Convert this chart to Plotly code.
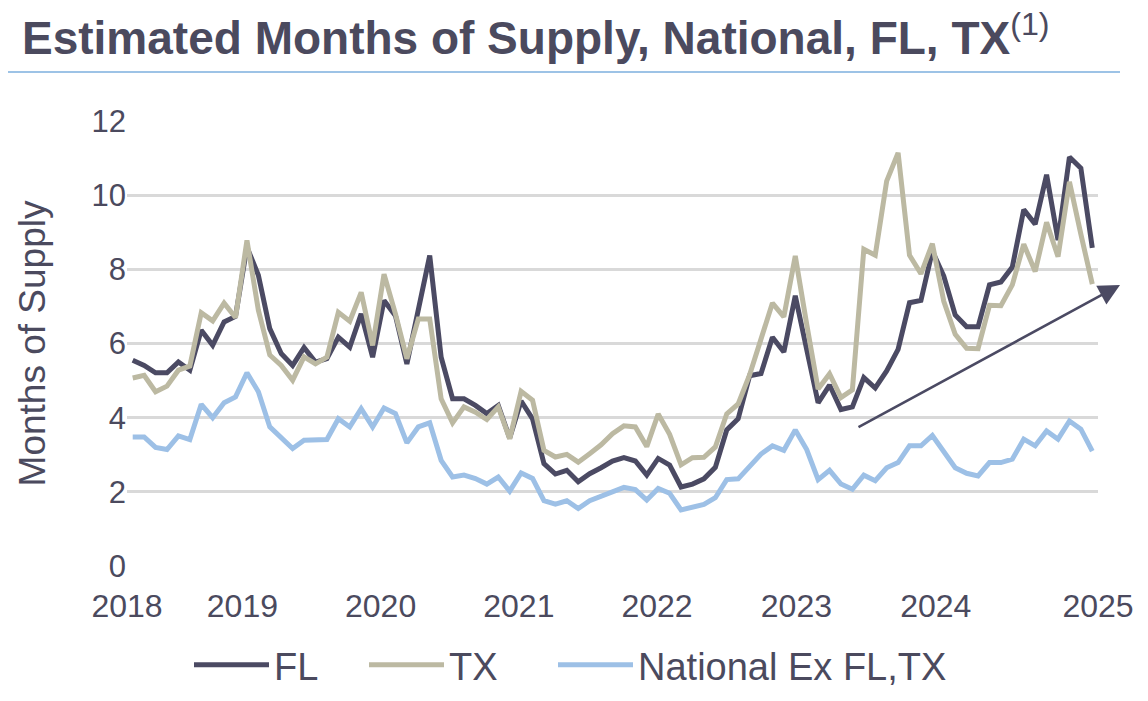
import plotly.graph_objects as go

# Monthly months-of-supply readings, Jan 2018 .. Jan 2025 (85 months)
fl = [
    5.55, 5.41, 5.21, 5.21, 5.50, 5.28, 6.36, 5.95, 6.58, 6.73, 8.60, 7.84,
    6.40, 5.73, 5.41, 5.89, 5.50, 5.59, 6.17, 5.90, 6.80, 5.63, 7.16, 6.75,
    5.45, 6.89, 8.37, 5.63, 4.51, 4.51, 4.33, 4.11, 4.33, 3.45, 4.45, 3.97,
    2.76, 2.48, 2.58, 2.27, 2.49, 2.65, 2.83, 2.92, 2.83, 2.45, 2.90, 2.72,
    2.13, 2.21, 2.35, 2.66, 3.67, 3.97, 5.13, 5.19, 6.17, 5.77, 7.29, 5.84,
    4.40, 4.88, 4.22, 4.29, 5.08, 4.80, 5.26, 5.84, 7.10, 7.16, 8.49, 7.82,
    6.77, 6.45, 6.45, 7.58, 7.66, 8.06, 9.61, 9.22, 10.55, 8.79, 11.03, 10.73,
    8.58,
]
tx = [
    5.07, 5.14, 4.70, 4.85, 5.28, 5.39, 6.83, 6.61, 7.09, 6.70, 8.78, 6.90,
    5.69, 5.41, 5.01, 5.64, 5.45, 5.63, 6.84, 6.60, 7.38, 5.95, 7.87, 6.80,
    5.59, 6.66, 6.66, 4.51, 3.86, 4.29, 4.15, 3.95, 4.29, 3.43, 4.71, 4.47,
    3.12, 2.94, 3.01, 2.80, 3.03, 3.27, 3.57, 3.78, 3.75, 3.22, 4.10, 3.55,
    2.73, 2.92, 2.93, 3.21, 4.10, 4.37, 5.15, 6.14, 7.09, 6.72, 8.36, 6.52,
    4.77, 5.18, 4.54, 4.75, 8.54, 8.38, 10.38, 11.14, 8.38, 7.88, 8.69, 7.14,
    6.25, 5.87, 5.86, 7.03, 7.02, 7.58, 8.68, 7.94, 9.27, 8.34, 10.36, 8.95,
    7.60,
]
national = [
    3.48, 3.48, 3.20, 3.14, 3.51, 3.41, 4.36, 4.00, 4.40, 4.56, 5.21, 4.70,
    3.75, 3.48, 3.17, 3.39, 3.39, 3.41, 3.97, 3.75, 4.24, 3.75, 4.26, 4.11,
    3.32, 3.75, 3.86, 2.85, 2.40, 2.45, 2.36, 2.21, 2.40, 2.02, 2.51, 2.36,
    1.76, 1.67, 1.76, 1.55, 1.76, 1.88, 2.03, 2.12, 2.06, 1.78, 2.09, 1.96,
    1.51, 1.59, 1.66, 1.84, 2.33, 2.35, 2.69, 3.02, 3.24, 3.12, 3.67, 3.14,
    2.33, 2.58, 2.21, 2.07, 2.45, 2.30, 2.65, 2.79, 3.24, 3.24, 3.52, 3.06,
    2.65, 2.50, 2.43, 2.79, 2.79, 2.88, 3.42, 3.24, 3.64, 3.42, 3.91, 3.69,
    3.10,
]
months = list(range(len(fl)))

year_labels = ["2018", "2019", "2020", "2021", "2022", "2023", "2024", "2025"]
series_names = ["FL", "TX", "National Ex FL,TX"]

DARK = "#4b4a63"
TAN = "#bcb9a2"
BLUE = "#9dc0e6"
TEXT = "#4b4a5e"
FONT = "Liberation Sans"

# the page body adds an 8px margin, so layout is worked out in page pixels
# and shifted back by that amount
PAD = 8
W, H = 1148 - PAD, 701 - PAD
L, R, T, B = 127 - PAD, 1098 - PAD, 121 - PAD, 566 - PAD


def px_x(x):
    # page pixel -> paper x
    return (x - PAD - L) / (R - L)


def px_y(y):
    # page pixel -> paper y
    return (B - (y - PAD)) / (B - T)


# one legend per series so the entries can be spread like the original
legend_ids = ["legend", "legend2", "legend3"]
legend_left = [197, 372, 561]

fig = go.Figure()
for name, vals, color, lg in zip(series_names, [fl, tx, national],
                                 [DARK, TAN, BLUE], legend_ids):
    fig.add_trace(
        go.Scatter(x=months, y=vals, mode="lines", name=name, legend=lg,
                   line=dict(color=color, width=5))
    )

# trend arrow drawn over the last two years
fig.add_annotation(
    x=px_x(1120), y=px_y(285), xref="paper", yref="paper",
    ax=857 - 1120, ay=428 - 285, axref="pixel", ayref="pixel",
    text="", showarrow=True, arrowhead=2, arrowsize=1.7, arrowwidth=2.5,
    arrowcolor=DARK,
)

# rule under the header
fig.add_shape(
    type="line", xref="paper", yref="paper",
    x0=px_x(0), x1=px_x(1120), y0=px_y(72), y1=px_y(72),
    line=dict(color="#9dc3e6", width=2),
)

legends = {
    lg: dict(
        orientation="h", xref="container", yref="container",
        x=(left - 8 - PAD) / W, xanchor="left",
        y=1 - (665 - PAD) / H, yanchor="middle",
        font=dict(size=38, color=TEXT), itemwidth=75,
        bgcolor="rgba(0,0,0,0)",
    )
    for lg, left in zip(legend_ids, legend_left)
}

fig.update_layout(
    width=W, height=H,
    margin=dict(l=L, r=W - R, t=T, b=H - B, autoexpand=False),
    plot_bgcolor="white", paper_bgcolor="white",
    font=dict(family=FONT, size=32, color=TEXT),
    title=dict(
        text="<b>Estimated Months of Supply, National, FL, TX</b><sup>(1)</sup>",
        font=dict(family=FONT, size=46, color=TEXT),
        xref="container", yref="container",
        x=(22 - PAD) / W, xanchor="left", y=1 - (38 - PAD) / H, yanchor="middle",
    ),
    xaxis=dict(
        range=[-0.5, len(fl) - 0.5],
        tickvals=[-0.5, 9.6, 21.7, 33.8, 45.9, 58.1, 70.3, len(fl) - 0.5],
        ticktext=year_labels,
        showgrid=False, zeroline=False, showline=False,
        ticks="", ticklabelstandoff=18,
        tickfont=dict(size=32, color=TEXT),
    ),
    yaxis=dict(
        range=[0, 12], dtick=2,
        showgrid=True, gridcolor="#d9d9d9", gridwidth=2.5,
        zeroline=False, showline=False, ticks="",
        tickfont=dict(size=31, color=TEXT),
        title=dict(text="Months of Supply", standoff=34,
                   font=dict(size=37, color=TEXT)),
    ),
    showlegend=True,
    **legends,
)

fig.write_html("out.html")
